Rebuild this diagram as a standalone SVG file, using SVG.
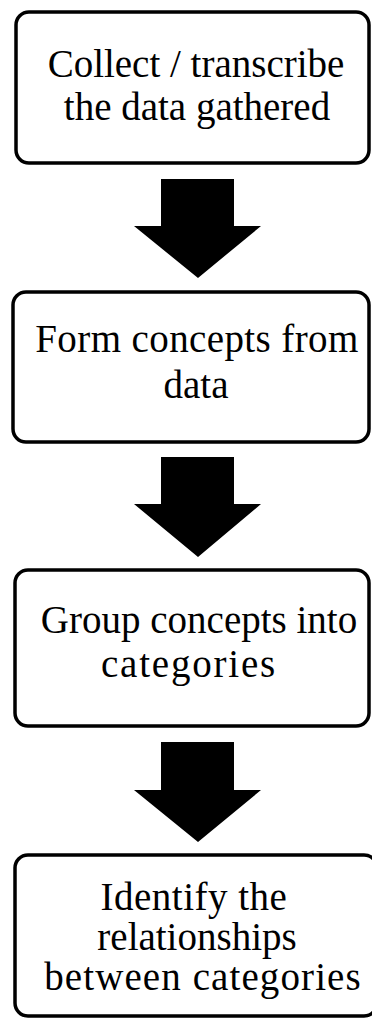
<svg xmlns="http://www.w3.org/2000/svg" width="372" height="1019" viewBox="0 0 372 1019">
<style>
.box{fill:#fff;stroke:#000;stroke-width:3.5}
.lbl{font-family:'Liberation Serif','Times New Roman',serif;font-size:39px;fill:#000;text-anchor:middle}
.arr{fill:#000}
</style>
<rect width="372" height="1019" fill="#fff"/>
<g id="n1">
<rect class="box" x="16" y="12" width="353" height="151" rx="13"/>
<text class="lbl" x="196" y="77">Collect / transcribe</text>
<text class="lbl" x="197" y="120">the data gathered</text>
</g>
<g id="n2">
<rect class="box" x="13" y="292" width="356" height="150" rx="13"/>
<text class="lbl" x="197" y="352" letter-spacing="0.4">Form concepts from</text>
<text class="lbl" x="196" y="398">data</text>
</g>
<g id="n3">
<rect class="box" x="15" y="570" width="354" height="156" rx="13"/>
<text class="lbl" x="199" y="633">Group concepts into</text>
<text class="lbl" x="189" y="677" letter-spacing="1.8">categories</text>
</g>
<g id="n4">
<rect class="box" x="15" y="855" width="362" height="161" rx="13"/>
<text class="lbl" x="194" y="910" letter-spacing="0.5">Identify the</text>
<text class="lbl" x="197" y="950">relationships</text>
<text class="lbl" x="203" y="990" letter-spacing="1.1">between categories</text>
</g>
<g id="connectors">
<polygon class="arr" points="161,179 234,179 234,226 261,226 198,278 134,226 161,226"/>
<polygon class="arr" points="161,457 234,457 234,504 261,504 198,557 134,504 161,504"/>
<polygon class="arr" points="161,742 234,742 234,790 261,790 198,842 134,790 161,790"/>
</g>
</svg>
